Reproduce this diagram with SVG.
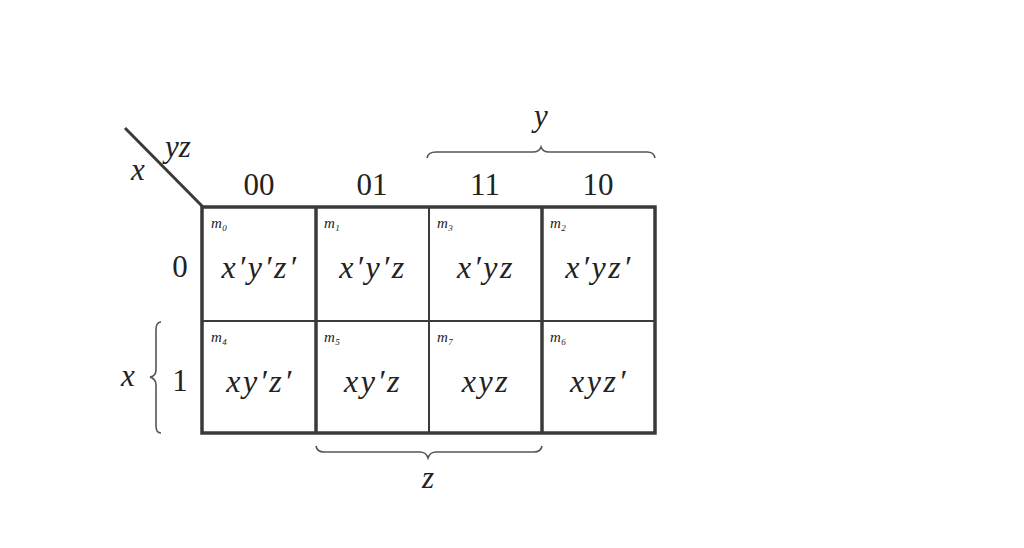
<svg xmlns="http://www.w3.org/2000/svg" width="1024" height="548" viewBox="0 0 1024 548">
<style>
.t{font-family:'Liberation Serif','DejaVu Serif','Times New Roman',serif;fill:#222}
.i{font-style:italic}
.big{font-size:32px;letter-spacing:2.5px}
.hd{font-size:31px}
.lb{font-size:31px;font-style:italic}
.m{font-size:15px;font-style:italic;letter-spacing:0.5px}
.sub{font-size:9px}
.ln{stroke:#3a3a3a;fill:none}
.br{stroke:#555;fill:none;stroke-width:1.6}
</style>
<rect width="1024" height="548" fill="#fff"/>
<g id="labels">
<line class="ln" x1="125" y1="128" x2="203" y2="207" stroke-width="3"/>
<text class="t lb" x="165" y="157">yz</text>
<text class="t lb" x="131" y="180">x</text>
<text class="t hd" x="259" y="195" text-anchor="middle">00</text>
<text class="t hd" x="372" y="195" text-anchor="middle">01</text>
<text class="t hd" x="485" y="195" text-anchor="middle">11</text>
<text class="t hd" x="598" y="195" text-anchor="middle">10</text>
<text class="t hd" x="180" y="277" text-anchor="middle">0</text>
<text class="t hd" x="180" y="391" text-anchor="middle">1</text>
<text class="t lb" x="128" y="386" text-anchor="middle">x</text>
<text class="t lb" x="541" y="126" text-anchor="middle">y</text>
<text class="t lb" x="428" y="488" text-anchor="middle">z</text>
</g>
<g id="braces">
<path class="br" d="M427,158 Q428,152 436,152 L533,152 Q539,152 541,147 Q543,152 549,152 L647,152 Q654,152 655,158"/>
<path class="br" d="M316,446 Q317,452 324,452 L420,452 Q426,452 428,458 Q430,452 436,452 L534,452 Q541,452 542,446"/>
<path class="br" d="M161,322 Q156,322 156,330 L156,370 Q156,376 150,377 Q156,379 156,385 L156,426 Q156,433 161,433"/>
</g>
<g id="grid">
<line class="ln" x1="202" y1="321" x2="655" y2="321" stroke-width="2"/>
<line class="ln" x1="316" y1="207" x2="316" y2="433" stroke-width="3.5"/>
<line class="ln" x1="429" y1="207" x2="429" y2="433" stroke-width="2"/>
<line class="ln" x1="542" y1="207" x2="542" y2="433" stroke-width="3.5"/>
<rect class="ln" x="202" y="207" width="453" height="226" stroke-width="3.5"/>
</g>
<g id="m0"><text class="t m" x="211" y="228">m<tspan class="sub" dy="3">0</tspan></text><text class="t i big" x="260" y="278" text-anchor="middle">x′y′z′</text></g>
<g id="m1"><text class="t m" x="324" y="228">m<tspan class="sub" dy="3">1</tspan></text><text class="t i big" x="373" y="278" text-anchor="middle">x′y′z</text></g>
<g id="m3"><text class="t m" x="437" y="228">m<tspan class="sub" dy="3">3</tspan></text><text class="t i big" x="486" y="278" text-anchor="middle">x′yz</text></g>
<g id="m2"><text class="t m" x="550" y="228">m<tspan class="sub" dy="3">2</tspan></text><text class="t i big" x="599" y="278" text-anchor="middle">x′yz′</text></g>
<g id="m4"><text class="t m" x="211" y="342">m<tspan class="sub" dy="3">4</tspan></text><text class="t i big" x="260" y="392" text-anchor="middle">xy′z′</text></g>
<g id="m5"><text class="t m" x="324" y="342">m<tspan class="sub" dy="3">5</tspan></text><text class="t i big" x="373" y="392" text-anchor="middle">xy′z</text></g>
<g id="m7"><text class="t m" x="437" y="342">m<tspan class="sub" dy="3">7</tspan></text><text class="t i big" x="486" y="392" text-anchor="middle">xyz</text></g>
<g id="m6"><text class="t m" x="550" y="342">m<tspan class="sub" dy="3">6</tspan></text><text class="t i big" x="599" y="392" text-anchor="middle">xyz′</text></g>
</svg>
